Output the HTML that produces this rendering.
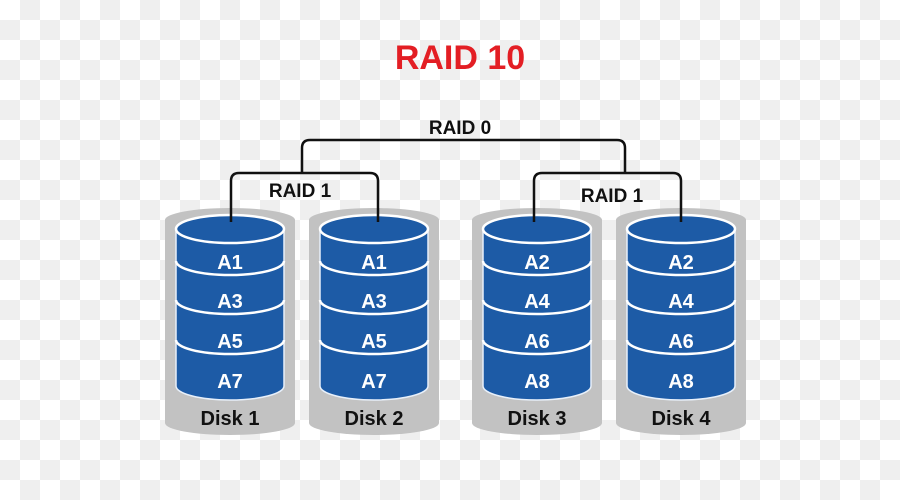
<!DOCTYPE html>
<html><head><style>
html,body{margin:0;padding:0}
body{width:900px;height:500px;overflow:hidden;background-color:#fff;
background-image:conic-gradient(#efefef 0 25%,#fff 0 50%,#efefef 0 75%,#fff 0);
background-size:40px 40px;}
svg{position:absolute;left:0;top:0}
text{font-family:"Liberation Sans",sans-serif;font-weight:bold}
</style></head><body>
<svg width="900" height="500" viewBox="0 0 900 500">
<defs>
<g id="disk">
<path d="M-65 220 A65 12 0 0 1 65 220 L65 423 A65 12 0 0 1 -65 423 Z" fill="#c2c2c2"/>
<path d="M-54 229 L-54 386 A54 14 0 0 0 54 386 L54 229 Z" fill="#1d5ba6" stroke="#e8f0fa" stroke-width="1.5"/>
<ellipse cx="0" cy="229" rx="54" ry="14" fill="#1d5ba6" stroke="#fff" stroke-width="2.5"/>
<path d="M-54 261 A54 14 0 0 0 54 261" fill="none" stroke="#fff" stroke-width="2.5"/>
<path d="M-54 300 A54 14 0 0 0 54 300" fill="none" stroke="#fff" stroke-width="2.5"/>
<path d="M-54 340 A54 14 0 0 0 54 340" fill="none" stroke="#fff" stroke-width="2.5"/>
</g>
</defs>
<text x="460" y="69" text-anchor="middle" font-size="34" fill="#e31e24">RAID 10</text>
<use href="#disk" x="230"/>
<use href="#disk" x="374"/>
<use href="#disk" x="537"/>
<use href="#disk" x="681"/>
<g fill="none" stroke="#111" stroke-width="2.5">
<path d="M231 222 V181 Q231 173 239 173 H370 Q378 173 378 181 V222"/>
<path d="M534 222 V181 Q534 173 542 173 H673 Q681 173 681 181 V222"/>
<path d="M302 173 V148 Q302 140 310 140 H617 Q625 140 625 148 V173"/>
</g>
<g font-size="19" fill="#111" text-anchor="middle">
<text x="460" y="134">RAID 0</text>
<text x="300" y="197">RAID 1</text>
<text x="612" y="202">RAID 1</text>
</g>
<g font-size="20" fill="#fff" text-anchor="middle">
<text x="230" y="269">A1</text><text x="230" y="308">A3</text><text x="230" y="348">A5</text><text x="230" y="388">A7</text>
<text x="374" y="269">A1</text><text x="374" y="308">A3</text><text x="374" y="348">A5</text><text x="374" y="388">A7</text>
<text x="537" y="269">A2</text><text x="537" y="308">A4</text><text x="537" y="348">A6</text><text x="537" y="388">A8</text>
<text x="681" y="269">A2</text><text x="681" y="308">A4</text><text x="681" y="348">A6</text><text x="681" y="388">A8</text>
</g>
<g font-size="20" fill="#111" text-anchor="middle">
<text x="230" y="425">Disk 1</text><text x="374" y="425">Disk 2</text>
<text x="537" y="425">Disk 3</text><text x="681" y="425">Disk 4</text>
</g>
</svg>
</body></html>
